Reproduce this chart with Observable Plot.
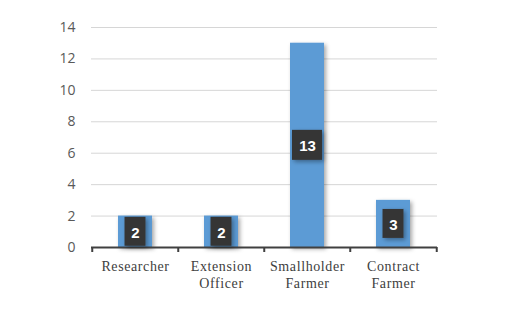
<!DOCTYPE html>
<html>
<head>
<meta charset="utf-8">
<script src="https://cdn.jsdelivr.net/npm/d3@7"></script>
<script src="https://cdn.jsdelivr.net/npm/@observablehq/plot@0.6"></script>
<style>
  html, body { margin: 0; padding: 0; background: #fff; }
  #chart { width: 514px; height: 319px; }
  g[aria-label="x-axis tick label"] text { letter-spacing: 0.6px; }
</style>
</head>
<body>
<div id="chart"></div>
<script>
const categories = ["Researcher", "Extension\nOfficer", "Smallholder\nFarmer", "Contract\nFarmer"];
const values = [2, 2, 13, 3];
const yTicks = [0, 2, 4, 6, 8, 10, 12, 14];

const data = categories.map((c, i) => ({cat: c, v: values[i]}));

const W = 514, H = 319, ML = 91, MR = 77, MT = 27, MB = 72;
const step = (W - ML - MR) / categories.length;

const short = data.filter(d => String(d.v).length === 1);
const long = data.filter(d => String(d.v).length > 1);

const plot = Plot.plot({
  width: W, height: H,
  marginLeft: ML, marginRight: MR, marginTop: MT, marginBottom: MB,
  style: {background: "#fff", overflow: "visible"},
  x: {domain: categories, paddingInner: 0.6, paddingOuter: 0.3, label: null},
  y: {domain: [0, 14], label: null},
  marks: [
    Plot.gridY(yTicks, {stroke: "#d6d6d6", strokeOpacity: 1, strokeWidth: 1}),
    Plot.axisY(yTicks, {tickSize: 0, tickPadding: 16, fontSize: 14, fill: "#595959",
      fontFamily: "'Open Sans', sans-serif", label: null}),
    Plot.barY(data, {x: "cat", y: "v", fill: "#5b9bd5", className: "bars"}),
    Plot.ruleY([0], {stroke: "#404040", strokeWidth: 2}),
    Plot.ruleX(categories, {x: d => d, dx: -step / 2, y1: 0, y2: 0, insetBottom: -5, stroke: "#404040", strokeWidth: 2}),
    Plot.ruleX([categories[categories.length - 1]], {x: d => d, dx: step / 2, y1: 0, y2: 0, insetBottom: -5, stroke: "#404040", strokeWidth: 2}),
    Plot.axisX({tickSize: 0, tickPadding: 12, fontSize: 14, fill: "#404040", lineHeight: 1.2,
      fontFamily: "'Liberation Serif', serif", label: null}),
    Plot.barY(short, {x: "cat", y1: d => d.v / 2, y2: d => d.v / 2, insetTop: -14.5, insetBottom: -14.5,
      insetLeft: 6.5, insetRight: 6.5, fill: "#363636", className: "boxes"}),
    Plot.barY(long, {x: "cat", y1: d => d.v / 2, y2: d => d.v / 2, insetTop: -15, insetBottom: -15,
      insetLeft: 2, insetRight: 2, fill: "#363636", className: "boxes"}),
    Plot.text(data, {x: "cat", y: d => d.v / 2, text: d => String(d.v), fill: "#fff", fontSize: 15,
      fontWeight: "bold", fontFamily: "'Liberation Sans', sans-serif", dy: 1})
  ]
});

const svg = d3.select(plot);
const defs = svg.insert("defs", ":first-child");
const f = defs.append("filter").attr("id", "shadow").attr("x", "-30%").attr("y", "-30%").attr("width", "160%").attr("height", "160%");
f.append("feDropShadow").attr("dx", 2).attr("dy", 2).attr("stdDeviation", 2).attr("flood-color", "#000").attr("flood-opacity", 0.35);
svg.selectAll("g.bars, g.boxes").attr("filter", "url(#shadow)");

document.getElementById("chart").appendChild(plot);
</script>
</body>
</html>
